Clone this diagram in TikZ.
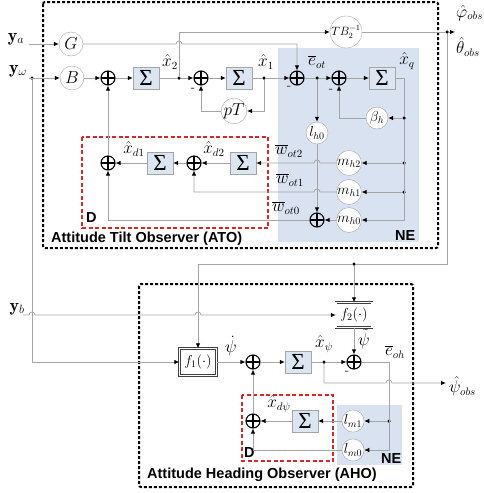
\documentclass[tikz,border=0pt]{standalone}
\usepackage{fontspec}
\newfontfamily\lsans{Liberation Sans}
\newfontfamily\sigfont{Liberation Serif}
\usetikzlibrary{arrows.meta,calc}
\definecolor{lg}{RGB}{165,165,165}
\definecolor{sigf}{RGB}{220,230,242}
\definecolor{nef}{RGB}{217,226,240}
\definecolor{dred}{RGB}{210,40,40}
\tikzset{
 ln/.style={draw=lg, line width=0.8pt},
 ar/.style={ln, -{Latex[length=5pt,width=4.5pt,color=black]}},
 sig/.style={rectangle, draw=lg, fill=sigf, minimum width=26pt, minimum height=22pt, inner sep=0pt, font=\sigfont\fontsize{23}{23}\selectfont},
 gain/.style={circle, draw=lg, fill=white, minimum size=24pt, inner sep=0pt, font=\fontsize{16}{16}\selectfont},
 sgain/.style={gain, minimum size=22pt, font=\fontsize{14}{14}\selectfont},
 pls/.style={circle, draw=black, line width=1.1pt, minimum size=14pt, inner sep=0pt,
   path picture={\draw[black,line width=1.1pt] (path picture bounding box.north) -- (path picture bounding box.south) (path picture bounding box.west) -- (path picture bounding box.east);}},
 dt/.style={circle, fill=black, inner sep=0pt, minimum size=3.5pt},
 fb/.style={rectangle, draw=black!75, fill=white, double, double distance=1.5pt, minimum width=36pt, minimum height=25pt, inner sep=0pt, font=\fontsize{14}{14}\selectfont},
 obs/.style={draw=black, line width=2pt, dash pattern=on 3pt off 2pt, rounded corners=2pt},
 dbox/.style={draw=dred, line width=1.2pt, dash pattern=on 4pt off 2.5pt},
 lab/.style={inner sep=0pt, font=\fontsize{16}{16}\selectfont},
 olab/.style={inner sep=0pt, anchor=west, font=\fontsize{16}{16}\selectfont},
 inl/.style={inner sep=0pt, font=\fontsize{18}{18}\selectfont},
 ttl/.style={font=\lsans\bfseries\fontsize{14.5}{14.5}\selectfont, inner sep=0pt, anchor=west},
 minus/.style={inner sep=0pt, font=\fontsize{13}{13}\selectfont},
}
\begin{document}
\begin{tikzpicture}[x=1pt,y=-1pt]
\useasboundingbox (0,0) rectangle (484,493);
% backgrounds
\fill[nef] (278,48) rectangle (419,242);
\fill[nef] (337,405) rectangle (402,465);
\draw[obs] (43,2) rectangle (438,248);
\draw[obs] (139,284) rectangle (413,487);
\draw[dbox] (82,137) rectangle (268,228);
\draw[dbox] (242,395) rectangle (333,461);
\node[ttl] (tato) at (51,239) {Attitude Tilt Observer (ATO)};
\node[ttl] (taho) at (147,475) {Attitude Heading Observer (AHO)};
\node[ttl] (dl1) at (86,218) {D};
\node[ttl] (dl2) at (244,453) {D};
\node[ttl] (ne1) at (395,236) {NE};
\node[ttl] (ne2) at (381,459) {NE};
% inputs
\node[inl] (lya) at (16,39) {$\mathbf{y}_a$};
\node[inl] (lyw) at (18,71) {$\mathbf{y}_\omega$};
\node[inl] (lyb) at (17,309) {$\mathbf{y}_b$};
\coordinate (ya) at (29,44);
\coordinate (yw) at (29,78);
\coordinate (ybs) at (23,315);
\node[dt] (ywdot) at (32,78) {};
% ATO
\node[gain] (G) at (71,44) {$G$};
\node[gain] (B) at (72,78) {$B$};
\node[pls] (s1) at (108,78) {};
\node[sig] (S1) at (146,78) {Σ};
\node[dt] (d2) at (179,78) {};
\node[pls] (s2) at (201,78) {};
\node[sig] (S2) at (239,78) {Σ};
\node[dt] (d1) at (264,78) {};
\node[gain] (pT) at (234,111) {$pT$};
\node[pls] (s3) at (297,78) {};
\node[dt] (deot) at (317,78) {};
\node[pls] (s4) at (339,78) {};
\node[sig] (Sq) at (382,78) {Σ};
\node[dt] (dbeta) at (404,118) {};
\node[sgain] (beta) at (377,118) {$\beta_h$};
\node[sgain] (lh0) at (317,133) {$l_{h0}$};
\node[dt] (dm2) at (404,163) {};
\node[dt] (dm1) at (404,192) {};
\node[sgain] (mh2) at (349,163) {$m_{h2}$};
\node[sgain] (mh1) at (349,192) {$m_{h1}$};
\node[sgain] (mh0) at (349,220) {$m_{h0}$};
\node[pls] (s5) at (317,220) {};
\node[sig] (Sd2) at (243,163) {Σ};
\node[pls] (sd2) at (194,163) {};
\node[sig] (Sd1) at (160,163) {Σ};
\node[pls] (sd1) at (108,163) {};
\node[gain, minimum size=32pt, font=\fontsize{12}{12}\selectfont] (TB) at (346,32) {$TB_2^{-1}$};
\node[dt] (dout) at (447,32) {};
\coordinate (outpt) at (455,32);
\node[olab] (lphi) at (456,13) {$\hat{\varphi}_{obs}$};
\node[olab] (ltheta) at (456,47) {$\hat{\theta}_{obs}$};
% ATO labels
\node[lab] (lx2) at (170,62) {$\hat{x}_2$};
\node[lab] (lx1) at (266,62) {$\hat{x}_1$};
\node[lab] (leot) at (317,62) {$\overline{e}_{ot}$};
\node[lab] (lxq) at (407,61) {$\hat{x}_q$};
\node[lab] (lxd1) at (134,149) {$\hat{x}_{d1}$};
\node[lab] (lxd2) at (214,149) {$\hat{x}_{d2}$};
\node[lab] (lw2) at (289,151) {$\overline{w}_{ot2}$};
\node[lab] (lw1) at (290,180) {$\overline{w}_{ot1}$};
\node[lab] (lw0) at (286,208) {$\overline{w}_{ot0}$};
\node[minus] (m1) at (193,90) {-};
\node[minus] (m2) at (289,88) {-};
\node[minus] (m3) at (331,91) {-};
% AHO
\node[dt] (dpf) at (354,264) {};
\node[fb] (f2) at (354,315) {$f_2(\cdot)$};
\node[fb, minimum width=37pt, minimum height=27pt] (f1) at (198,362) {$f_1(\cdot)$};
\node[pls] (a1) at (253,362) {};
\node[sig] (Spsi) at (298,362) {Σ};
\node[dt] (dpsi) at (324,362) {};
\node[pls] (a2) at (354,362) {};
\coordinate (cr) at (389,362);
\node[dt] (dlm1) at (389,421) {};
\node[sgain] (lm1) at (353,421) {$l_{m1}$};
\node[sgain] (lm0) at (353,450) {$l_{m0}$};
\node[sig] (Sdpsi) at (305,421) {Σ};
\node[pls] (a3) at (253,421) {};
\coordinate (psiout) at (446,383);
\node[olab] (lpsi) at (449,386) {$\hat{\psi}_{obs}$};
\node[lab] (lpsid) at (231,346) {$\dot{\psi}$};
\node[lab] (lxpsi) at (324,344) {$\hat{x}_\psi$};
\node[lab] (lpsit) at (364,339) {$\tilde{\psi}$};
\node[lab] (leoh) at (395,352) {$\overline{e}_{oh}$};
\node[lab] (lxdpsi) at (279,404) {$\hat{x}_{d\psi}$};
\node[minus] (m4) at (347,373) {-};
% connectors ATO
\draw[ar] (ya) -- (G);
\draw[ar] (G) -- ([xshift=-3pt]d2 |- G) arc[start angle=180,end angle=0,radius=3pt] -- (s3 |- G) -- (s3);
\draw[ar] (yw) -- (B);
\draw[ar] (B) -- (s1);
\draw[ar] (s1) -- (S1);
\draw[ln] (S1) -- (d2);
\draw[ar] (d2) -- (s2);
\draw[ar] (s2) -- (S2);
\draw[ln] (S2) -- (d1);
\draw[ar] (d1) -- (s3);
\draw[ar] (d1) |- (pT);
\draw[ar] (pT) -| (s2);
\draw[ar] (d2) |- (TB);
\draw[ln] (TB) -- (dout);
\draw[ar] (dout) -- (outpt);
\draw[ln] (s3) -- (deot);
\draw[ar] (deot) -- (s4);
\draw[ar] (s4) -- (Sq);
\draw[ln] (Sq) -| (dbeta);
\draw[ar] (dbeta) -- (beta);
\draw[ar] (beta) -| (s4);
\draw[ar] (dbeta) |- (mh0);
\draw[ar] (dm2) -- (mh2);
\draw[ar] (dm1) -- (mh1);
\draw[ar] (deot) -- (lh0);
\draw[ar] (lh0) -- (s5);
\draw[ar] (mh2) -- ([xshift=3pt]lh0 |- mh2) arc[start angle=0,end angle=180,radius=3pt] -- (Sd2);
\draw[ar] (mh1) -- ([xshift=3pt]lh0 |- mh1) arc[start angle=0,end angle=180,radius=3pt] -| (sd2);
\draw[ar] (mh0) -- (s5);
\draw[ar] (s5) -| (sd1);
\draw[ar] (Sd2) -- (sd2);
\draw[ar] (sd2) -- (Sd1);
\draw[ar] (Sd1) -- (sd1);
\draw[ar] (sd1) -- (s1);
% links to AHO
\draw[ln] (dout) |- (dpf);
\draw[ar] (dpf) -| (f1);
\draw[ar] (dpf) -- (f2);
\draw[ar] (ywdot) |- (f1);
\draw[ar] (ybs) -- ([xshift=-3pt]ywdot |- ybs) arc[start angle=180,end angle=0,radius=3pt] -- ([xshift=-3pt]f1 |- ybs) arc[start angle=180,end angle=0,radius=3pt] -- (f2);
% AHO connectors
\draw[ar] (f1) -- (a1);
\draw[ar] (a1) -- (Spsi);
\draw[ln] (Spsi) -- (dpsi);
\draw[ar] (dpsi) -- (a2);
\draw[ar] (f2) -- (a2);
\draw[ar] (a2) -- (cr) |- (lm0);
\draw[ar] (dlm1) -- (lm1);
\draw[ar] (dpsi) |- ([xshift=-3pt]cr |- psiout) arc[start angle=180,end angle=0,radius=3pt] -- (psiout);
\draw[ar] (lm1) -- (Sdpsi);
\draw[ar] (Sdpsi) -- (a3);
\draw[ar] (lm0) -| (a3);
\draw[ar] (a3) -- (a1);
\end{tikzpicture}
\end{document}
